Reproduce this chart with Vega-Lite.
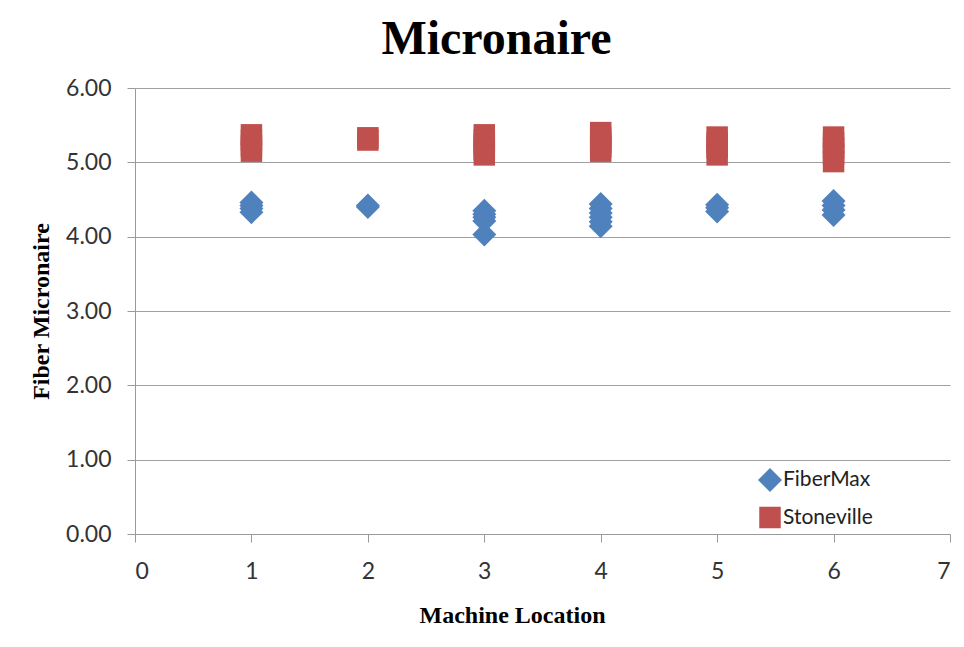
{
  "$schema": "https://vega.github.io/schema/vega-lite/v6.json",
  "width": 815,
  "height": 446,
  "autosize": "none",
  "padding": {"left": 135, "top": 88, "right": 14, "bottom": 113},
  "background": "white",
  "title": {
    "text": "Micronaire",
    "font": "Liberation Serif",
    "fontWeight": "bold",
    "fontSize": 48,
    "color": "black",
    "anchor": "middle",
    "dx": -46,
    "offset": 13
  },
  "data": {
    "values": [
      {"loc": 1, "mic": 4.46, "variety": "FiberMax"},
      {"loc": 1, "mic": 4.42, "variety": "FiberMax"},
      {"loc": 1, "mic": 4.38, "variety": "FiberMax"},
      {"loc": 1, "mic": 4.33, "variety": "FiberMax"},
      {"loc": 2, "mic": 4.42, "variety": "FiberMax"},
      {"loc": 2, "mic": 4.4, "variety": "FiberMax"},
      {"loc": 3, "mic": 4.35, "variety": "FiberMax"},
      {"loc": 3, "mic": 4.3, "variety": "FiberMax"},
      {"loc": 3, "mic": 4.26, "variety": "FiberMax"},
      {"loc": 3, "mic": 4.21, "variety": "FiberMax"},
      {"loc": 3, "mic": 4.03, "variety": "FiberMax"},
      {"loc": 4, "mic": 4.44, "variety": "FiberMax"},
      {"loc": 4, "mic": 4.38, "variety": "FiberMax"},
      {"loc": 4, "mic": 4.32, "variety": "FiberMax"},
      {"loc": 4, "mic": 4.26, "variety": "FiberMax"},
      {"loc": 4, "mic": 4.2, "variety": "FiberMax"},
      {"loc": 4, "mic": 4.14, "variety": "FiberMax"},
      {"loc": 5, "mic": 4.43, "variety": "FiberMax"},
      {"loc": 5, "mic": 4.39, "variety": "FiberMax"},
      {"loc": 5, "mic": 4.34, "variety": "FiberMax"},
      {"loc": 6, "mic": 4.48, "variety": "FiberMax"},
      {"loc": 6, "mic": 4.42, "variety": "FiberMax"},
      {"loc": 6, "mic": 4.36, "variety": "FiberMax"},
      {"loc": 6, "mic": 4.29, "variety": "FiberMax"},
      {"loc": 1, "mic": 5.37, "variety": "Stoneville"},
      {"loc": 1, "mic": 5.3, "variety": "Stoneville"},
      {"loc": 1, "mic": 5.22, "variety": "Stoneville"},
      {"loc": 1, "mic": 5.15, "variety": "Stoneville"},
      {"loc": 2, "mic": 5.33, "variety": "Stoneville"},
      {"loc": 2, "mic": 5.3, "variety": "Stoneville"},
      {"loc": 3, "mic": 5.37, "variety": "Stoneville"},
      {"loc": 3, "mic": 5.3, "variety": "Stoneville"},
      {"loc": 3, "mic": 5.24, "variety": "Stoneville"},
      {"loc": 3, "mic": 5.17, "variety": "Stoneville"},
      {"loc": 3, "mic": 5.1, "variety": "Stoneville"},
      {"loc": 4, "mic": 5.4, "variety": "Stoneville"},
      {"loc": 4, "mic": 5.33, "variety": "Stoneville"},
      {"loc": 4, "mic": 5.27, "variety": "Stoneville"},
      {"loc": 4, "mic": 5.21, "variety": "Stoneville"},
      {"loc": 4, "mic": 5.15, "variety": "Stoneville"},
      {"loc": 5, "mic": 5.34, "variety": "Stoneville"},
      {"loc": 5, "mic": 5.27, "variety": "Stoneville"},
      {"loc": 5, "mic": 5.2, "variety": "Stoneville"},
      {"loc": 5, "mic": 5.1, "variety": "Stoneville"},
      {"loc": 6, "mic": 5.34, "variety": "Stoneville"},
      {"loc": 6, "mic": 5.26, "variety": "Stoneville"},
      {"loc": 6, "mic": 5.19, "variety": "Stoneville"},
      {"loc": 6, "mic": 5.11, "variety": "Stoneville"},
      {"loc": 6, "mic": 5.01, "variety": "Stoneville"}
    ]
  },
  "mark": {"type": "point", "filled": true, "opacity": 1},
  "encoding": {
    "x": {
      "field": "loc",
      "type": "quantitative",
      "scale": {"domain": [0, 7], "nice": false, "zero": false},
      "axis": {
        "title": "Machine Location",
        "values": [0, 1, 2, 3, 4, 5, 6, 7],
        "format": "d",
        "grid": false,
        "tickSize": 8,
        "tickColor": "#9a9a9a",
        "domainColor": "#9a9a9a",
        "labelFont": "Lato",
        "labelFontSize": 23,
        "labelColor": "#333333",
        "labelPadding": 18,
        "titleFont": "Liberation Serif",
        "titleFontWeight": "bold",
        "titleFontSize": 24,
        "titleColor": "black",
        "titleX": 377,
        "titleAlign": "center",
        "titlePadding": 20
      }
    },
    "y": {
      "field": "mic",
      "type": "quantitative",
      "scale": {"domain": [0, 6], "nice": false},
      "axis": {
        "title": "Fiber Micronaire",
        "values": [0, 1, 2, 3, 4, 5, 6],
        "format": ".2f",
        "grid": true,
        "gridColor": "#a0a0a0",
        "gridWidth": 1.2,
        "tickSize": 8,
        "tickColor": "#9a9a9a",
        "domainColor": "#9a9a9a",
        "labelFont": "Lato",
        "labelFontSize": 23,
        "labelColor": "#333333",
        "labelPadding": 16,
        "titleFont": "Liberation Serif",
        "titleFontWeight": "bold",
        "titleFontSize": 24,
        "titleColor": "black",
        "titlePadding": 12
      }
    },
    "color": {
      "field": "variety",
      "type": "nominal",
      "scale": {"domain": ["FiberMax", "Stoneville"], "range": ["#4F81BD", "#C0504D"]},
      "legend": {
        "title": null,
        "orient": "none",
        "legendX": 622,
        "legendY": 379,
        "padding": 0,
        "symbolSize": 300,
        "symbolOpacity": 1,
        "labelFont": "Lato",
        "labelFontSize": 21,
        "labelColor": "#222222",
        "labelOffset": 0,
        "rowPadding": 8
      }
    },
    "shape": {
      "field": "variety",
      "type": "nominal",
      "scale": {"domain": ["FiberMax", "Stoneville"], "range": ["diamond", "square"]}
    },
    "size": {
      "field": "variety",
      "type": "nominal",
      "scale": {"domain": ["FiberMax", "Stoneville"], "range": [576, 462]},
      "legend": null
    }
  },
  "config": {
    "view": {"stroke": null}
  }
}
